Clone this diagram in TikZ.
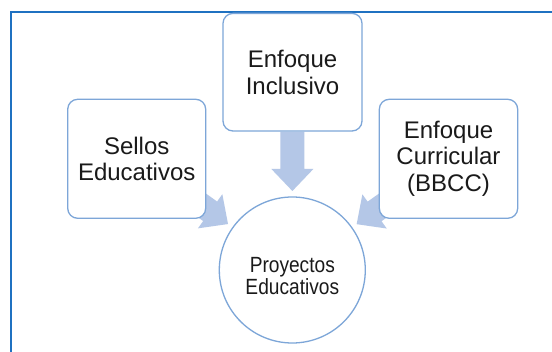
\documentclass[tikz,border=0pt]{standalone}
\usepackage{fontspec}
\setmainfont{Liberation Sans}
\newfontfamily\circfont[FakeStretch=0.87]{Liberation Sans}
\usetikzlibrary{calc}
\definecolor{framec}{RGB}{31,113,193}
\definecolor{boxc}{RGB}{125,166,216}
\definecolor{arrc}{RGB}{180,199,231}
\definecolor{txtc}{RGB}{26,26,26}
\pgfdeclarelayer{background}
\pgfsetlayers{background,main}
\tikzset{
  rbox/.style={draw=boxc, line width=1.3pt, fill=white, rounded corners=10pt,
    minimum width=138pt, minimum height=119pt, inner sep=0pt, align=center,
    text=txtc, font=\fontsize{24}{26.6}\selectfont},
  rcirc/.style={circle, draw=boxc, line width=1.3pt, fill=white,
    minimum size=146pt, inner sep=0pt},
  ctext/.style={align=center, inner sep=0pt, text=txtc,
    font=\circfont\fontsize{22}{21.7}\selectfont},
  blockarr/.style={fill=arrc},
  frameline/.style={draw=framec, line width=2pt}
}
\begin{document}
\begin{tikzpicture}[x=1pt,y=-1pt]
\useasboundingbox (0,0) rectangle (552,352);
\clip (0,0) rectangle (552,352);

\node[rbox] (sel) at (136.7,158.8) {Sellos\\Educativos};
\node[rbox, minimum height=117.6pt, minimum width=139pt] (inc) at (292.5,72.2) {Enfoque\\Inclusivo};
\node[rbox, minimum width=138.4pt] (cur) at (448.5,158.8) {Enfoque\\Curricular\\(BBCC)};
\node[rcirc] (circ) at (292.3,270) {};
\node[ctext] (ptext) at (292.3,276.3) {Proyectos\\Educativos};

\coordinate (tipD) at ($(circ.center)!79pt!(inc.center)$);
\coordinate (tipL) at ($(circ.center)!79pt!(sel.center)$);
\coordinate (tipR) at ($(circ.center)!79pt!(cur.center)$);

\begin{pgfonlayer}{background}
  \fill[white] (0,0) rectangle (552,352);
  \draw[frameline] (10.9,12.3) rectangle (580,380);
  \foreach \t/\a in {tipD/-90, tipL/-35.55, tipR/-144.55}{
    \fill[blockarr, shift={(\t)}, rotate=\a]
      (0,0) -- (-22,21) -- (-22,12) -- (-59,12) -- (-59,-12) -- (-22,-12) -- (-22,-21) -- cycle;
  }
\end{pgfonlayer}
\end{tikzpicture}
\end{document}
